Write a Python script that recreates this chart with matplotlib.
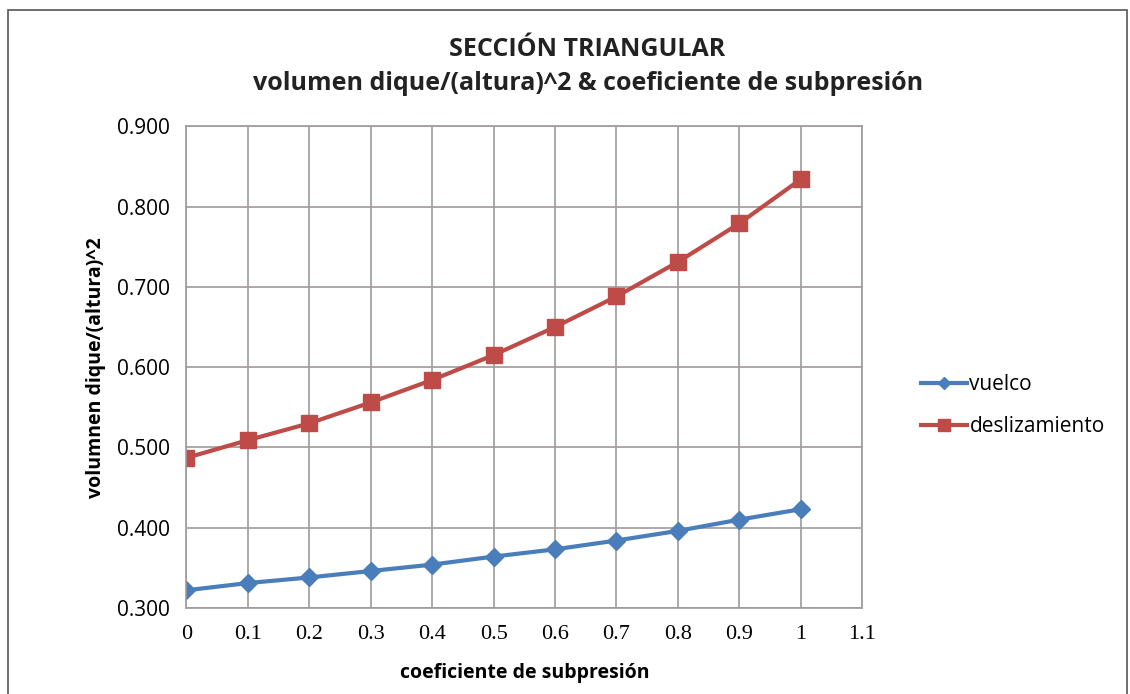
import matplotlib
matplotlib.use("Agg")
import matplotlib.pyplot as plt
from matplotlib.patches import Rectangle

coef = [0, 0.1, 0.2, 0.3, 0.4, 0.5, 0.6, 0.7, 0.8, 0.9, 1.0]
vuelco = [0.322, 0.331, 0.338, 0.346, 0.354, 0.364, 0.373, 0.384, 0.396, 0.410, 0.423]
deslizamiento = [0.487, 0.509, 0.530, 0.556, 0.584, 0.615, 0.650, 0.688, 0.731, 0.779, 0.834]

x_ticks = [0, 0.1, 0.2, 0.3, 0.4, 0.5, 0.6, 0.7, 0.8, 0.9, 1, 1.1]
x_labels = ["0", "0.1", "0.2", "0.3", "0.4", "0.5", "0.6", "0.7", "0.8", "0.9", "1", "1.1"]
y_ticks = [0.3, 0.4, 0.5, 0.6, 0.7, 0.8, 0.9]

plt.rcParams["font.family"] = ["Open Sans", "DejaVu Sans"]

fig = plt.figure(figsize=(11.30, 6.94), dpi=100)
ax = fig.add_axes([0.165, 0.124, 0.598, 0.694])

# outer chart frame
fig.patches.append(Rectangle((0.007, -0.01), 0.99, 0.995, transform=fig.transFigure,
                             fill=False, edgecolor="#555555", linewidth=1.2))

ax.plot(coef, vuelco, color="#4a7ebb", linewidth=3, marker="D", markersize=9,
        label="vuelco")
ax.plot(coef, deslizamiento, color="#be4b48", linewidth=3, marker="s", markersize=12,
        label="deslizamiento")

ax.set_xlim(0, 1.1)
ax.set_ylim(0.3, 0.9)
ax.set_xticks(x_ticks)
ax.set_xticklabels(x_labels, fontfamily="Liberation Serif", fontsize=16)
ax.set_yticks(y_ticks)
ax.set_yticklabels([f"{v:.3f}" for v in y_ticks], fontsize=15)
ax.tick_params(length=0, pad=12)
ax.grid(True, color="#a09a9a", linewidth=1.2)
ax.set_axisbelow(True)
for s in ax.spines.values():
    s.set_color("#a09a9a")
    s.set_linewidth(1.2)

ax.set_xlabel("coeficiente de subpresión", fontsize=14, fontweight="bold", labelpad=14)
ax.set_ylabel("volumnen dique/(altura)^2", fontsize=14, fontweight="bold", labelpad=8)

fig.text(0.52, 0.928, "SECCIÓN TRIANGULAR", ha="center", va="center",
         fontsize=18, fontweight="bold", color="#222222")
fig.text(0.52, 0.879, "volumen dique/(altura)^2 & coeficiente de subpresión", ha="center",
         va="center", fontsize=18, fontweight="bold", color="#222222")

ax.legend(loc="center left", bbox_to_anchor=(1.06, 0.42), frameon=False, fontsize=15,
          handlelength=2.2, handletextpad=0.1, labelspacing=1.0, markerscale=0.7)

fig.savefig("out.png", dpi=100)
